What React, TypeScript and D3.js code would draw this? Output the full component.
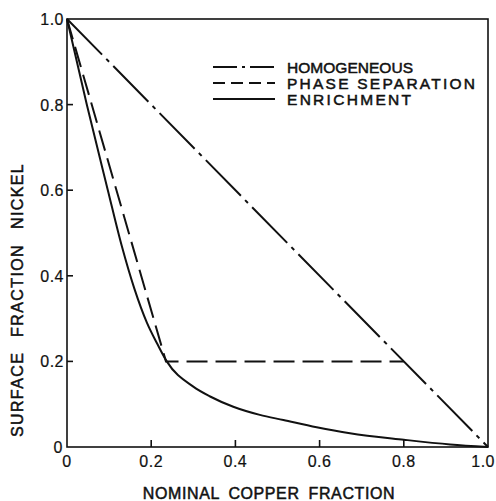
import React from "react";
import * as d3 from "d3";

// values
const xTicks = [0, 0.2, 0.4, 0.6, 0.8, 1.0];
const xTickLabels = ["0", "0.2", "0.4", "0.6", "0.8", "1.0"];
const yTicks = [0, 0.2, 0.4, 0.6, 0.8, 1.0];
const yTickLabels = ["0", "0.2", "0.4", "0.6", "0.8", "1.0"];

const homogeneous: [number, number][] = [
  [0, 1],
  [1, 0],
];
const phaseSeparation: [number, number][] = [
  [0, 1],
  [0.235, 0.2],
  [0.8, 0.2],
];
const enrichment: [number, number][] = [
  [0, 1],
  [0.047, 0.8],
  [0.097, 0.6],
  [0.13, 0.47],
  [0.16, 0.37],
  [0.19, 0.29],
  [0.215, 0.24],
  [0.237, 0.2],
  [0.3, 0.141],
  [0.34, 0.118],
  [0.395, 0.094],
  [0.458, 0.075],
  [0.514, 0.063],
  [0.593, 0.046],
  [0.672, 0.032],
  [0.8, 0.017],
  [0.91, 0.006],
  [1, 0],
];

const legendLabels = ["HOMOGENEOUS", "PHASE SEPARATION", "ENRICHMENT"];
const legendWidths = [126, 188, 124];
const seriesDashes = ["50,6,4,6", "21,8", "none"];
const legendDashes = ["24,5,3,5", "12,6", "none"];

const W = 496;
const H = 501;
const FONT = "'Liberation Sans', Arial, sans-serif";

export default function App() {
  const x = d3.scaleLinear().domain([0, 1]).range([67, 488]);
  const y = d3.scaleLinear().domain([0, 1]).range([447, 19]);

  const straight = d3
    .line<[number, number]>()
    .x((d) => x(d[0]))
    .y((d) => y(d[1]));
  const smooth = d3
    .line<[number, number]>()
    .x((d) => x(d[0]))
    .y((d) => y(d[1]))
    .curve(d3.curveMonotoneX);

  const paths = [straight(homogeneous), straight(phaseSeparation), smooth(enrichment)];

  return (
    <svg
      width={W}
      height={H}
      style={{ position: "absolute", left: 0, top: 0, background: "#fff" }}
      fontFamily={FONT}
    >
      {/* frame */}
      <rect
        x={x(0)}
        y={y(1)}
        width={x(1) - x(0)}
        height={y(0) - y(1)}
        fill="none"
        stroke="#111"
        strokeWidth={1.6}
      />

      {/* ticks, pointing inward */}
      {xTicks.slice(1, -1).map((t) => (
        <line key={"xt" + t} x1={x(t)} x2={x(t)} y1={y(0)} y2={y(0) - 7} stroke="#111" strokeWidth={1.6} />
      ))}
      {yTicks.slice(1, -1).map((t) => (
        <line key={"yt" + t} x1={x(0)} x2={x(0) + 6} y1={y(t)} y2={y(t)} stroke="#111" strokeWidth={1.6} />
      ))}

      {/* tick labels */}
      {xTicks.map((t, i) => (
        <text
          key={"xl" + t}
          x={i === xTicks.length - 1 ? 495 : x(t)}
          y={467}
          textAnchor={i === xTicks.length - 1 ? "end" : "middle"}
          fontSize={16}
          letterSpacing={0.5}
          fill="#111"
          stroke="#111"
          strokeWidth={0.2}
        >
          {xTickLabels[i]}
        </text>
      ))}
      {yTicks.map((t, i) => (
        <text
          key={"yl" + t}
          x={i === 0 ? 63 : 64}
          y={y(t) + 6}
          textAnchor="end"
          fontSize={16}
          letterSpacing={0.5}
          fill="#111"
          stroke="#111"
          strokeWidth={0.2}
        >
          {yTickLabels[i]}
        </text>
      ))}

      {/* axis titles */}
      <text x={269} y={499} textAnchor="middle" fontSize={16} letterSpacing={0.6} wordSpacing={4} fill="#111" stroke="#111" strokeWidth={0.5}>
        NOMINAL COPPER FRACTION
      </text>
      <text
        transform="translate(23,300) rotate(-90)"
        textAnchor="middle"
        fontSize={16}
        letterSpacing={1.4}
        wordSpacing={9}
        fill="#111"
        stroke="#111"
        strokeWidth={0.5}
      >
        SURFACE FRACTION NICKEL
      </text>

      {/* curves */}
      {paths.map((d, i) => (
        <path
          key={"s" + i}
          d={d || ""}
          fill="none"
          stroke="#111"
          strokeWidth={2}
          strokeDasharray={seriesDashes[i]}
        />
      ))}

      {/* legend */}
      {legendLabels.map((lab, i) => (
        <g key={lab} transform={`translate(213,${67 + i * 16})`}>
          <line x1={0} x2={62} y1={0} y2={0} stroke="#111" strokeWidth={2} strokeDasharray={legendDashes[i]} />
          <text
            x={74}
            y={6}
            fontSize={15.5}
            textLength={legendWidths[i]}
            lengthAdjust="spacing"
            fill="#111"
            stroke="#111"
            strokeWidth={0.5}
          >
            {lab}
          </text>
        </g>
      ))}
    </svg>
  );
}
